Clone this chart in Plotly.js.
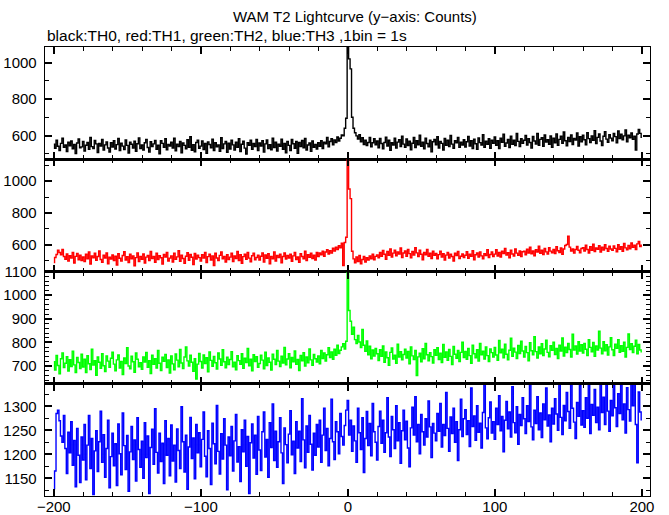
<!DOCTYPE html>
<html><head><meta charset="utf-8">
<script src="https://cdn.plot.ly/plotly-3.0.1.min.js"></script>
<style>html,body{margin:0;padding:0;background:#fff}#plot{width:669px;height:515px}</style>
</head><body><div id="plot"></div>
<script>
// Time bins (s): -200 .. 200, 1 bin = 1 s
const binStart = -200;
const titleText = "WAM T2 Lightcurve (y\u2212axis: Counts)";
const subtitleText = "black:TH0, red:TH1, green:TH2, blue:TH3 ,1bin = 1s";
const xTickVals = [-200, -100, 0, 100, 200];
const xTickText = ["\u2212200", "\u2212100", "0", "100", "200"];

const th0 = [
553,530,575,541,518,557,586,536,548,512,564,544,570,527,551,501,559,581,533,538,
567,515,547,562,524,590,539,529,573,554,507,556,543,578,520,549,565,532,510,561,
537,572,526,550,584,517,558,542,523,576,546,504,563,552,531,569,514,555,587,528,
548,521,560,579,534,509,566,540,554,573,525,547,500,571,557,536,582,522,551,543,
564,532,585,516,553,539,568,506,559,546,527,577,535,593,519,550,511,562,574,530,
542,570,523,556,503,565,551,533,580,518,560,538,548,514,588,529,554,567,508,558,
526,575,549,520,563,536,583,512,552,569,531,499,561,547,574,524,556,540,579,517,
559,543,571,509,554,576,528,550,522,586,534,564,515,553,541,580,525,557,505,568,
546,518,578,555,530,567,502,562,539,573,533,584,521,548,559,513,570,536,551,526,
560,541,572,529,563,555,590,538,567,582,549,576,561,592,570,585,603,598,640,695,
1095,1020,965,700,640,615,598,581,605,566,588,551,574,545,562,590,538,560,582,549,
570,533,584,556,527,562,591,543,575,519,560,548,586,531,564,577,540,596,553,536,
581,545,569,522,558,590,534,572,549,602,541,563,527,585,556,538,574,511,566,579,
549,593,532,568,557,521,584,546,575,539,600,553,530,571,560,589,535,563,548,577,
537,566,595,542,571,528,580,555,524,587,561,548,604,536,569,552,583,530,574,558,
592,547,571,528,586,563,607,541,559,578,534,596,552,575,545,611,568,539,582,557,
574,601,548,583,562,531,595,570,553,612,546,579,588,541,603,564,577,552,597,536,
585,560,609,547,579,596,558,620,571,544,590,567,603,550,584,575,614,542,593,566,
602,577,549,615,583,561,598,574,627,556,590,608,570,545,596,621,580,563,605,586,
571,612,594,560,625,583,607,576,598,631,565,602,588,614,579,596,520,608,633,612,
590];

const th1 = [
489,521,540,566,552,538,571,527,509,543,498,532,517,552,486,528,546,507,535,501,
524,495,541,512,556,480,530,519,547,503,527,562,508,491,536,518,549,482,523,511,
537,502,529,474,545,516,498,533,557,505,526,489,541,513,531,468,520,550,496,527,
510,543,486,523,534,501,559,514,528,491,547,508,532,519,479,540,524,553,499,517,
531,493,548,509,525,563,497,536,515,484,529,551,504,540,522,476,546,511,535,520,
498,538,517,552,489,526,542,505,531,470,547,518,501,534,556,512,527,493,539,508,
523,547,496,530,514,558,502,539,485,526,541,509,553,517,494,532,548,507,521,536,
505,529,550,492,537,516,545,481,528,512,556,499,533,520,542,488,527,549,511,534,
518,541,497,531,553,508,524,490,544,527,513,560,501,538,522,547,515,536,505,552,
526,549,538,561,529,555,570,543,564,548,579,561,586,570,595,582,611,470,615,648,
1140,950,890,560,512,488,525,496,534,482,508,527,493,520,505,531,512,541,506,528,
537,519,552,528,565,541,510,559,535,574,523,548,567,531,556,542,580,520,549,562,
528,571,545,519,558,536,583,550,527,566,541,507,553,538,572,529,548,515,560,534,
546,512,539,561,523,544,505,536,552,518,541,527,499,548,533,558,514,529,543,521,
535,557,516,542,528,563,507,538,549,524,556,531,512,545,533,570,521,540,555,527,
542,569,530,553,524,561,546,578,536,551,519,566,543,530,574,548,535,562,527,557,
560,538,573,549,585,544,562,531,570,555,591,547,566,539,578,556,543,583,561,550,
571,546,589,563,552,580,541,574,596,602,655,586,562,574,548,571,590,566,551,577,
583,562,598,571,549,589,566,604,558,580,573,595,555,586,568,601,577,560,592,574,
566,593,578,556,601,572,588,560,609,581,569,597,575,612,584,598,571,606,622,590,
598];

const th2 = [
718,683,745,702,667,731,756,694,712,740,679,727,698,763,705,672,736,715,689,750,
696,729,672,744,710,685,771,704,723,661,738,716,690,752,701,677,743,721,695,733,
759,708,680,726,747,691,719,664,734,711,778,700,688,742,718,673,755,729,697,714,
686,739,717,758,695,723,668,746,707,731,692,766,712,681,737,720,749,694,726,670,
743,709,684,751,725,697,770,713,689,738,781,722,700,746,716,678,731,645,708,753,
719,692,747,711,735,676,760,724,699,741,714,687,755,730,703,769,718,693,737,706,
728,761,697,716,684,744,723,707,752,690,733,715,775,701,729,680,748,719,740,695,
711,746,725,688,759,702,734,716,683,750,729,706,766,721,698,742,713,779,705,730,
752,693,736,718,764,707,728,681,745,722,757,700,738,714,772,726,703,749,731,717,
743,709,766,732,755,721,748,778,736,760,729,771,745,788,753,767,781,795,772,805,
1105,935,890,835,865,812,795,830,802,778,855,788,762,806,748,784,731,768,742,775,
752,723,769,741,785,716,760,735,703,758,777,730,746,712,793,738,761,726,749,771,
734,762,709,781,743,727,766,660,739,754,718,773,731,796,748,722,757,740,713,769,
745,778,728,754,715,792,737,760,724,770,741,706,783,750,733,766,719,758,801,736,
762,729,775,744,712,788,752,735,769,721,796,748,763,730,781,744,719,772,757,738,
779,747,724,808,756,771,735,793,750,726,767,818,741,776,759,732,787,753,805,764,
738,783,757,722,799,765,748,824,761,734,781,752,795,744,772,810,758,739,786,767,
801,749,775,732,788,764,819,742,780,757,796,770,738,835,768,785,751,803,763,790,
755,796,771,744,812,779,760,800,741,785,768,848,776,752,803,765,790,747,781,820,
769,744,793,775,812,758,786,762,801,738,779,836,770,795,757,784,809,752,791,768,
760];

const th3 = [
1128,1165,1285,1292,1270,1238,1225,1281,1212,1160,1246,1203,1268,1177,1229,1132,1254,1198,1141,1236,
1188,1262,1147,1219,1281,1170,1233,1116,1207,1249,1164,1226,1290,1183,1241,1152,1212,1271,1130,1195,
1244,1176,1222,1135,1263,1201,1157,1286,1218,1168,1239,1123,1205,1258,1189,1230,1144,1276,1210,1173,
1227,1150,1266,1193,1238,1118,1214,1252,1179,1295,1204,1161,1244,1185,1223,1139,1270,1198,1233,1155,
1261,1186,1219,1142,1253,1208,1170,1299,1226,1163,1240,1127,1215,1277,1191,1234,1149,1262,1203,1245,
1174,1231,1288,1196,1153,1249,1212,1137,1265,1222,1180,1302,1206,1159,1243,1190,1274,1219,1126,1236,
1197,1258,1165,1228,1283,1184,1216,1143,1251,1205,1271,1175,1237,1118,1224,1263,1192,1240,1158,1279,
1209,1166,1247,1288,1194,1231,1152,1266,1214,1305,1187,1248,1173,1226,1276,1203,1139,1255,1220,1182,
1242,1291,1199,1227,1160,1268,1213,1248,1185,1316,1230,1172,1259,1204,1281,1221,1167,1244,1198,1262,
1215,1271,1183,1240,1296,1208,1254,1176,1233,1315,1226,1189,1268,1247,1201,1285,1237,1219,1260,1292,
1312,1240,1271,1206,1259,1228,1183,1296,1245,1210,1276,1162,1233,1289,1218,1264,1197,1306,1247,1225,
1188,1258,1290,1223,1271,1204,1245,1318,1236,1195,1279,1251,1212,1301,1228,1266,1181,1249,1292,1230,
1269,1213,1174,1255,1298,1240,1320,1226,1262,1201,1283,1247,1219,1274,1236,1311,1257,1193,1264,1244,
1228,1285,1248,1306,1215,1262,1239,1329,1254,1206,1278,1243,1296,1225,1268,1187,1251,1315,1237,1274,
1293,1241,1270,1216,1338,1258,1280,1229,1301,1246,1265,1213,1287,1350,1255,1232,1276,1309,1244,1268,
1231,1296,1262,1322,1249,1279,1205,1271,1310,1253,1288,1236,1341,1266,1245,1299,1221,1283,1260,1318,
1274,1243,1301,1268,1347,1257,1230,1292,1264,1320,1251,1286,1235,1305,1272,1338,1259,1282,1226,1296,
1263,1316,1284,1250,1350,1277,1241,1302,1270,1329,1289,1254,1350,1296,1267,1233,1308,1279,1343,1261,
1291,1256,1318,1275,1350,1243,1304,1281,1335,1266,1298,1251,1350,1287,1319,1262,1347,1290,1248,1312,
1280,1352,1297,1258,1326,1285,1350,1272,1305,1244,1339,1293,1269,1350,1301,1352,1262,1182,1330,1288,
1272];

const series = [
  {y: th0, color: "#000000", xa: "x2", ya: "y"},
  {y: th1, color: "#ff0000", xa: "x3", ya: "y2"},
  {y: th2, color: "#00ff00", xa: "x4", ya: "y3"},
  {y: th3, color: "#0000ff", xa: "x",  ya: "y4"}
];

const traces = series.map(s => ({
  type: "scatter", mode: "lines",
  x: s.y.map((_, i) => binStart + i),
  y: s.y, xaxis: s.xa, yaxis: s.ya,
  line: {color: s.color, width: 1.4, shape: "hvh"},
  hoverinfo: "skip"
}));

const FONT = "Liberation Sans, Arial, Helvetica, sans-serif";
const xBase = {
  range: [-206, 205.5], showline: true, linecolor: "#000", linewidth: 1.3, mirror: "ticks",
  ticks: "inside", ticklen: 7, tickwidth: 2, tickcolor: "#000",
  tickvals: xTickVals, ticktext: xTickText,
  minor: {dtick: 20, tick0: 0, ticks: "inside", ticklen: 4, tickwidth: 1, tickcolor: "#000"},
  showgrid: false, zeroline: false, fixedrange: true, ticklabelstandoff: -3,
  tickfont: {family: FONT, size: 15, color: "#000"}
};
function yAx(domain, range, dtick, minorDtick) {
  return {
    domain: domain, range: range, showline: true, linecolor: "#000", linewidth: 1.3, mirror: "ticks",
    ticks: "inside", ticklen: 7, tickwidth: 2, tickcolor: "#000", dtick: dtick, tick0: 0,
    minor: {dtick: minorDtick, tick0: 0, ticks: "inside", ticklen: 4, tickwidth: 1, tickcolor: "#000"},
    showgrid: false, zeroline: false, fixedrange: true, ticklabelstandoff: 4,
    tickfont: {family: FONT, size: 15, color: "#000"}
  };
}

const layout = {
  width: 669, height: 515,
  margin: {l: 45, r: 19, t: 47, b: 19},
  paper_bgcolor: "#fff", plot_bgcolor: "#fff",
  showlegend: false,
  xaxis: Object.assign({}, xBase, {anchor: "y4"}),
  xaxis2: Object.assign({}, xBase, {anchor: "y", showticklabels: false}),
  xaxis3: Object.assign({}, xBase, {anchor: "y2", showticklabels: false}),
  xaxis4: Object.assign({}, xBase, {anchor: "y3", showticklabels: false}),
  yaxis: Object.assign(yAx([0.75, 1], [470, 1085], 200, 100), {anchor: "x2"}),
  yaxis2: Object.assign(yAx([0.5, 0.75], [433, 1137], 200, 100), {anchor: "x3"}),
  yaxis3: Object.assign(yAx([0.25, 0.5], [625, 1100.5], 100, 20), {anchor: "x4"}),
  yaxis4: Object.assign(yAx([0, 0.25], [1113, 1347], 50, 25), {anchor: "x"}),
  annotations: [
    {text: titleText, xref: "paper", yref: "paper", x: 0.512, y: 1.067, xanchor: "center", yanchor: "middle",
     showarrow: false, font: {family: FONT, size: 15, color: "#000"}},
    {text: subtitleText, xref: "paper", yref: "paper", x: 0, y: 1.0245, xanchor: "left", yanchor: "middle",
     showarrow: false, font: {family: FONT, size: 15.5, color: "#000"}}
  ]
};

Plotly.newPlot("plot", traces, layout, {staticPlot: true, displayModeBar: false});
</script>
</body></html>
